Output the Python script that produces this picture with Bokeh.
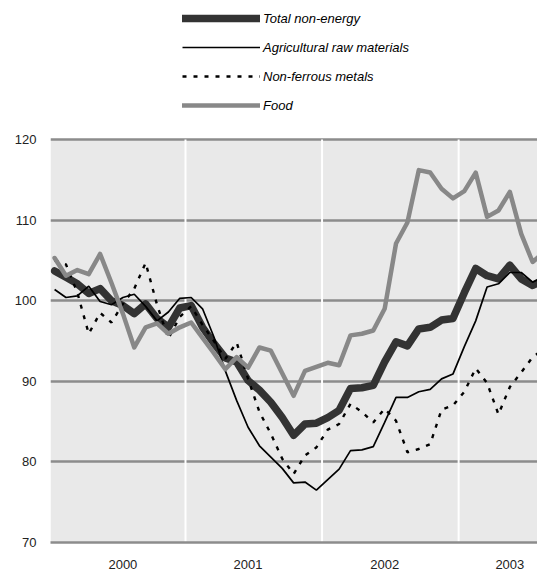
from bokeh.plotting import figure
from bokeh.models import (ColumnDataSource, Legend, LegendItem, FixedTicker,
                          Range1d, Grid, BoxAnnotation, CustomJSTickFormatter)
from bokeh.embed import file_html
from bokeh.resources import INLINE

# ---------------- data (monthly index, Jan 2000 .. Aug 2003) ----------------
months = [f"{2000 + i // 12}-{i % 12 + 1:02d}" for i in range(44)]

total_non_energy = [
    103.7, 102.9, 102.1, 100.9, 101.5, 100.0, 99.4, 98.4, 99.6, 97.8, 96.7, 99.1,
    99.4, 96.7, 94.7, 92.9, 92.4, 90.1, 88.9, 87.4, 85.5, 83.3, 84.7, 84.8,
    85.5, 86.4, 89.1, 89.2, 89.5, 92.4, 94.9, 94.4, 96.5, 96.7, 97.6, 97.8,
    101.0, 104.0, 103.1, 102.7, 104.4, 102.7, 101.9, 102.6]

agricultural_raw = [
    101.4, 100.4, 100.6, 101.8, 99.9, 99.5, 100.4, 100.8, 99.3, 97.5, 98.6, 100.3,
    100.4, 99.0, 95.5, 91.3, 87.6, 84.3, 82.0, 80.6, 79.2, 77.4, 77.5, 76.5,
    77.8, 79.1, 81.4, 81.5, 81.9, 84.9, 88.0, 88.0, 88.7, 89.0, 90.3, 90.9,
    94.3, 97.5, 101.7, 102.1, 103.5, 103.5, 102.3, 103.0]

non_ferrous = [
    105.0, 104.5, 101.0, 95.9, 98.5, 97.3, 99.6, 101.5, 104.7, 99.5, 95.3, 98.0,
    99.3, 97.0, 95.0, 92.8, 94.8, 90.3, 86.2, 83.5, 80.4, 78.5, 80.8, 81.8,
    84.0, 84.7, 87.2, 86.2, 84.9, 86.6, 85.1, 81.2, 81.6, 82.2, 86.5, 87.0,
    88.7, 91.6, 89.8, 85.9, 89.3, 91.1, 93.0, 94.0]

food = [
    105.3, 103.1, 103.8, 103.3, 105.8, 102.2, 98.4, 94.2, 96.7, 97.2, 95.9, 96.7,
    97.3, 95.4, 93.5, 91.5, 93.0, 91.7, 94.2, 93.8, 91.0, 88.2, 91.3, 91.8,
    92.3, 92.0, 95.7, 95.9, 96.3, 99.0, 107.1, 109.7, 116.2, 115.9, 113.9, 112.7,
    113.6, 115.9, 110.4, 111.2, 113.5, 108.3, 104.8, 106.0]

year_labels = ["2000", "2001", "2002", "2003"]
year_label_pos = [6.5, 17.5, 29.5, 40.5]      # month units
year_boundaries = [12, 24, 36]                 # month units
y_ticks = [70, 80, 90, 100, 110, 120]
y_min, y_max = 70, 120

x = [i + 0.5 for i in range(len(months))]      # month centres

src = ColumnDataSource(dict(x=x, total=total_non_energy, agri=agricultural_raw,
                            metals=non_ferrous, food=food))
bsrc = ColumnDataSource(dict(x=year_boundaries,
                             y0=[y_min] * len(year_boundaries),
                             y1=[y_max] * len(year_boundaries)))

FONT = "Liberation Sans"

p = figure(width=537, height=572, output_backend="svg", toolbar_location=None,
           x_range=Range1d(0.14, 42.93), y_range=Range1d(70, 137.25),
           min_border_left=50, min_border_right=0, min_border_top=0,
           min_border_bottom=30, background_fill_color="white",
           border_fill_color="white", outline_line_color=None)

p.xgrid.visible = False
p.ygrid.visible = False
p.add_layout(BoxAnnotation(bottom=y_min, top=y_max, fill_color="#e9e9e9",
                           fill_alpha=1, line_color=None, level="underlay"))
ygrid = Grid(dimension=1, ticker=FixedTicker(ticks=y_ticks),
             grid_line_color="#8c8c8c", grid_line_width=2.5, level="underlay")
p.add_layout(ygrid)

# axes
p.yaxis.ticker = FixedTicker(ticks=y_ticks)
p.yaxis.axis_line_color = None
p.yaxis.major_tick_line_color = None
p.yaxis.minor_tick_line_color = None
p.yaxis.major_label_standoff = 8
p.yaxis.major_label_text_font = FONT
p.yaxis.major_label_text_font_size = "13px"
p.yaxis.major_label_text_color = "#222222"

p.xaxis.ticker = FixedTicker(ticks=year_label_pos)
p.xaxis.formatter = CustomJSTickFormatter(
    args=dict(pos=year_label_pos, labels=year_labels),
    code="""
        for (let i = 0; i < pos.length; i++) {
            if (Math.abs(pos[i] - tick) < 1e-6) { return labels[i]; }
        }
        return '';
    """)
p.xaxis.axis_line_color = "#8c8c8c"
p.xaxis.axis_line_width = 2.5
p.xaxis.major_tick_line_color = None
p.xaxis.minor_tick_line_color = None
p.xaxis.major_label_standoff = 11
p.xaxis.major_label_text_font = FONT
p.xaxis.major_label_text_font_size = "13px"
p.xaxis.major_label_text_color = "#222222"

# white year separators
p.segment(x0="x", y0="y0", x1="x", y1="y1", source=bsrc,
          line_color="white", line_width=2)

# series
r_total = p.line("x", "total", source=src, line_color="#333333", line_width=7.5,
                 line_join="round", line_cap="round")
r_agri = p.line("x", "agri", source=src, line_color="black", line_width=1.7)
r_met = p.line("x", "metals", source=src, line_color="black", line_width=2.4,
               line_dash="4 7")
r_food = p.line("x", "food", source=src, line_color="#888888", line_width=4.5,
                line_join="round", line_cap="round")

legend = Legend(items=[
    LegendItem(label="Total non-energy", renderers=[r_total]),
    LegendItem(label="Agricultural raw materials", renderers=[r_agri]),
    LegendItem(label="Non-ferrous metals", renderers=[r_met]),
    LegendItem(label="Food", renderers=[r_food]),
], location=(132, 427), orientation="vertical")
legend.padding = 0
legend.margin = 0
legend.spacing = 9
legend.glyph_width = 78
legend.glyph_height = 20
legend.label_height = 20
legend.label_standoff = 3
legend.label_text_font = FONT
legend.label_text_font_style = "italic"
legend.label_text_font_size = "13px"
legend.label_text_color = "black"
legend.border_line_color = None
legend.background_fill_alpha = 0
p.add_layout(legend)

open("out.html", "w").write(file_html(p, INLINE))
